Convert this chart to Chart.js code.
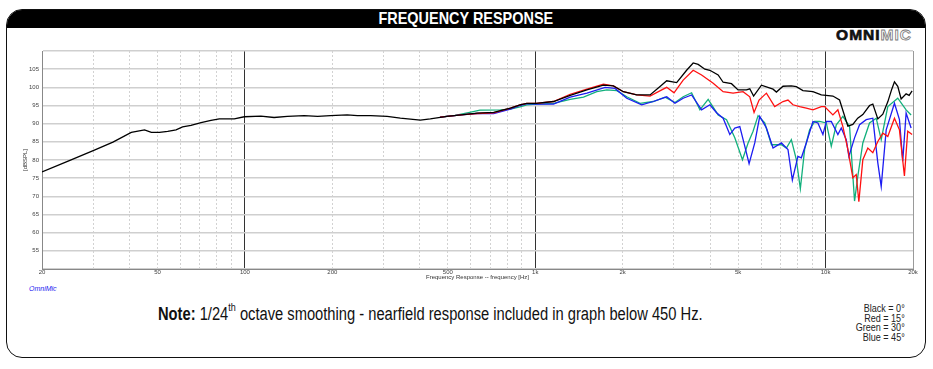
<!DOCTYPE html>
<html>
<head>
<meta charset="utf-8">
<title>Frequency Response</title>
<script src="https://cdn.jsdelivr.net/npm/chart.js@4.4.1/dist/chart.umd.min.js"></script>
<style>
    html, body { margin: 0; padding: 0; background: #fff; }
    body { width: 933px; height: 369px; position: relative; overflow: hidden; font-family: "Liberation Sans", Arial, sans-serif; }
    .frame { position: absolute; left: 6px; top: 9px; width: 918px; height: 347px; border: 1.6px solid #111; border-radius: 16px; overflow: hidden; }
    .title-bar { height: 18px; background: #000; color: #fff; text-align: center; font-weight: bold; font-size: 17px; line-height: 18px; }
    .title-bar span { display: inline-block; transform: scaleX(0.85); }
    .logo { position: absolute; right: 21px; top: 26px; font-weight: bold; font-size: 15.5px; letter-spacing: 1px; }
    .logo .omni { color: #111; -webkit-text-stroke: 0.7px #111; }
    .logo .mic { color: #fff; -webkit-text-stroke: 0.8px #777; }
    #chart { position: absolute; left: 0; top: 0; }
    .brand { position: absolute; left: 29px; top: 285px; font-size: 7px; font-style: italic; color: #2424f0; }
    .note { position: absolute; left: 158px; top: 304px; font-size: 18px; color: #111; white-space: nowrap; transform: scaleX(0.817); transform-origin: left top; }
    .note sup { font-size: 11px; position: relative; top: -2px; vertical-align: super; line-height: 0; }
    .legend { position: absolute; right: 28px; top: 304px; text-align: right; font-size: 11px; line-height: 9.7px; color: #222; transform: scaleX(0.82); transform-origin: right top; }
</style>
</head>
<body>
<div class="frame"><div class="title-bar"><span>FREQUENCY RESPONSE</span></div></div>
<div class="logo"><span class="omni">OMNI</span><span class="mic">MIC</span></div>
<canvas id="chart" width="933" height="281"></canvas>
<div class="brand">OmniMic</div>
<div class="note"><b>Note:</b> 1/24<sup>th</sup> octave smoothing - nearfield response included in graph below 450 Hz.</div>
<div class="legend">Black = 0°<br>Red = 15°<br>Green = 30°<br>Blue = 45°</div>

<script>
// Frequency response readings (Hz / dB SPL), one pair of arrays per angle

// 0 deg (includes nearfield below 450 Hz)
const blackHz = [20, 24.6, 30.3, 35.1, 40.6, 45.1, 47.6, 50.8, 54.2, 57.9, 61, 65.2, 70.6, 76.4, 81.6, 91.9, 99.5,
    113.5, 126, 140, 160, 178, 197, 225, 244, 271, 309, 343, 402, 435, 496, 567, 631, 719, 821, 886, 935,
    1006, 1156, 1319, 1506, 1717, 1858, 2011, 2236, 2485, 2690, 2836, 3069, 3321, 3499, 3640, 3839, 3994,
    4265, 4437, 4741, 4995, 5338, 5481, 5650, 6012, 6591, 6770, 7133, 7621, 7929, 8355, 9044, 9665, 10595,
    11171, 11931, 12412, 12900, 13435, 14168, 14543, 15130, 15741, 16376, 16900, 17265, 17724, 18204, 18937,
    19400, 19857];
const blackDb = [76.7, 79.7, 82.7, 84.9, 87.6, 88.3, 87.6, 87.6, 87.9, 88.3, 89.1, 89.5, 90.3, 90.9, 91.3, 91.3, 91.9,
    92.1, 91.7, 92.0, 92.2, 92.0, 92.2, 92.4, 92.2, 92.2, 92.0, 91.5, 91.0, 91.3, 92.0, 92.5, 92.9, 93.1, 94.3, 95.2, 95.6,
    95.6, 96.1, 97.8, 99.3, 100.6, 100.4, 98.8, 97.9, 97.9, 100.2, 101.8, 101.3, 104.7, 106.7, 106.3, 105.0, 104.7,
    103.4, 101.4, 101.0, 99.3, 99.3, 99.6, 97.6, 100.6, 99.5, 98.7, 100.3, 100.4, 100.2, 99.1, 98.8, 97.9, 97.6,
    96.5, 89.3, 89.8, 91.5, 92.5, 95.0, 95.4, 91.3, 92.6, 96.0, 99.5, 101.5, 100.3, 96.8, 98.2,
    97.8, 99.0];

// 15 deg
const redHz = [470, 567, 631, 719, 821, 886, 935, 1006, 1156, 1319, 1506, 1717, 1858, 2011, 2236, 2485, 2726, 2836,
    3005, 3232, 3499, 3740, 4100, 4437, 4801, 5197, 5481, 5670, 5899, 6254, 6679, 7133, 7420, 7718, 8140, 8581,
    9044, 9665, 9921, 10595, 11023, 11469, 11931, 12412, 12751, 13017, 13435, 13978, 14543, 15130, 15741, 16376,
    17265, 17962, 18684, 19179, 19857];
const redDb = [91.8, 92.5, 92.8, 93.0, 94.3, 95.2, 95.6, 95.6, 96.1, 98.1, 99.5, 100.9, 100.4, 98.8, 97.9, 97.6, 99.3, 100.0,
    98.5, 102.0, 104.7, 103.4, 101.1, 98.8, 98.4, 98.8, 97.4, 93.1, 96.5, 98.4, 94.7, 96.1, 96.5, 95.2, 94.7, 94.3,
    93.8, 94.7, 94.7, 92.4, 93.8, 89.2, 82.9, 75.1, 76.0, 68.5, 80.1, 83.3, 82.0, 85.1, 87.4, 86.5,
    91.5, 88.3, 75.6, 87.9, 87.0];

// 30 deg
const greenHz = [470, 530, 600, 645, 758, 821, 886, 935, 1006, 1156, 1319, 1466, 1629, 1764, 1909, 2066, 2296, 2550,
    2798, 3028, 3232, 3455, 3690, 3940, 4265, 4558, 4867, 5172, 5408, 5626, 5853, 6171, 6508, 7043, 7327, 7621,
    7929, 8185, 8468, 8810, 9166, 9536, 10056, 10461, 10884, 11469, 12094, 12581, 12914, 13435, 14168, 14940,
    15543, 16376, 17724, 18937, 19702];
const greenDb = [91.8, 92.3, 93.2, 93.7, 93.8, 94.0, 94.6, 95.2, 95.4, 95.6, 96.7, 97.3, 98.8, 99.3, 99.1, 97.4, 95.6, 96.1,
    97.3, 95.8, 97.4, 98.5, 93.8, 96.7, 92.4, 91.1, 86.1, 80.1, 84.7, 87.9, 92.2, 90.2, 84.2, 84.2, 83.3, 85.6,
    80.1, 72.1, 82.9, 88.3, 90.6, 90.6, 90.2, 83.8, 89.7, 92.0, 89.2, 68.7, 75.6, 84.7, 90.2, 91.5,
    85.6, 94.7, 97.0, 93.8, 92.4];

// 45 deg
const blueHz = [470, 567, 631, 719, 821, 886, 935, 1006, 1156, 1319, 1506, 1740, 1883, 2066, 2326, 2550, 2836, 3028,
    3232, 3455, 3740, 3994, 4211, 4437, 4678, 4867, 5064, 5267, 5451, 5702, 5931, 6254, 6591, 7043, 7420, 7682,
    8030, 8250, 8581, 9044, 9408, 9789, 10056, 10461, 11023, 11324, 11780, 12027, 12581, 13089, 13802, 14543,
    15130, 15543, 16170, 17265, 17962, 18436, 18937, 19702];
const blueDb = [91.8, 92.5, 92.8, 92.8, 94.0, 95.0, 95.5, 95.4, 95.4, 97.3, 98.4, 100.0, 99.7, 97.0, 95.2, 96.1, 97.4, 95.6,
    97.0, 97.9, 93.8, 95.2, 93.0, 91.5, 87.0, 88.8, 89.2, 83.8, 79.0, 84.7, 92.0, 88.8, 83.3, 84.7, 82.9, 74.5,
    81.0, 80.6, 84.7, 90.6, 90.2, 87.0, 90.6, 90.6, 87.0, 88.8, 85.6, 81.0, 86.1, 89.7, 91.1, 91.5,
    79.2, 72.7, 88.3, 95.6, 91.1, 79.7, 92.9, 88.8];

// Axis ticks and labels
const yTicks = [50, 55, 60, 65, 70, 75, 80, 85, 90, 95, 100, 105, 110];
const yLabelled = [55, 60, 65, 70, 75, 80, 85, 90, 95, 100, 105];
const xLabelValues = [20, 50, 100, 200, 500, 1000, 2000, 5000, 10000, 20000];
const xLabelText = ['20', '50', '100', '200', '500', '1k', '2k', '5k', '10k', '20k'];
const xMajorLines = [100, 1000, 10000, 20000];

const toPoints = (hz, db) => hz.map((f, i) => ({ x: f, y: db[i] }));

// every 1..9 x decade between 20 Hz and 20 kHz
function minorFreqs() {
    const list = [];
    for (let dec = 10; dec <= 10000; dec *= 10) {
        for (let m = 1; m <= 9; m++) {
            const f = m * dec;
            if (f >= 20 && f <= 20000) list.push(f);
        }
    }
    list.push(20000);
    return [...new Set(list)];
}

const tinyFont = { family: '"Liberation Sans", Arial, sans-serif', size: 6 };
const series = (label, hz, db, color) => ({
    label, data: toPoints(hz, db), borderColor: color, borderWidth: 1.3,
    pointRadius: 0, tension: 0, fill: false
});

new Chart(document.getElementById('chart'), {
    type: 'line',
    data: {
        datasets: [
            series('0°', blackHz, blackDb, '#000000'),
            series('15°', redHz, redDb, '#ff1010'),
            series('45°', blueHz, blueDb, '#1c1cf2'),
            series('30°', greenHz, greenDb, '#12b07c')
        ]
    },
    options: {
        responsive: false,
        animation: false,
        events: [],
        layout: { padding: { left: 22, top: 51, right: 20, bottom: 0 } },
        plugins: { legend: { display: false }, tooltip: { enabled: false } },
        scales: {
            x: {
                type: 'logarithmic',
                min: 20, max: 20000,
                afterBuildTicks: (s) => { s.ticks = minorFreqs().map(v => ({ value: v })); },
                afterFit: (s) => { s.height = 12; },
                ticks: {
                    autoSkip: false, maxRotation: 0, padding: 0, font: tinyFont, color: '#444',
                    callback: (v) => {
                        const i = xLabelValues.indexOf(v);
                        return i >= 0 ? xLabelText[i] : '';
                    }
                },
                grid: {
                    drawTicks: false, lineWidth: 1,
                    color: (ctx) => (ctx.tick && xMajorLines.concat([20]).includes(ctx.tick.value)) ? 'rgba(0,0,0,0)' : '#d2d2d2'
                },
                border: { color: '#888', dash: [2, 2] },
                title: { display: true, text: 'Frequency Response -- frequency [Hz]', font: tinyFont, color: '#333', padding: 0 }
            },
            x2: {
                type: 'logarithmic',
                min: 20, max: 20000,
                position: 'bottom',
                afterBuildTicks: (s) => { s.ticks = xMajorLines.map(v => ({ value: v })); },
                afterFit: (s) => { s.height = 0; },
                ticks: { display: false },
                grid: {
                    drawTicks: false, lineWidth: 1,
                    color: (ctx) => (ctx.tick && ctx.tick.value === 20000) ? '#9a9a9a' : '#333'
                },
                border: { display: false }
            },
            y: {
                min: 50, max: 110,
                afterBuildTicks: (s) => { s.ticks = yTicks.map(v => ({ value: v })); },
                afterFit: (s) => { s.width = 20; },
                ticks: {
                    font: tinyFont, color: '#444', padding: 3,
                    callback: (v) => yLabelled.includes(v) ? String(v) : ''
                },
                grid: { drawTicks: false, color: '#cfcfcf', lineWidth: 1.5 },
                border: { color: '#888', width: 1 },
                title: { display: true, text: '[dBSPL]', font: tinyFont, color: '#333', padding: 0 }
            }
        }
    }
});
</script>
</body>
</html>
